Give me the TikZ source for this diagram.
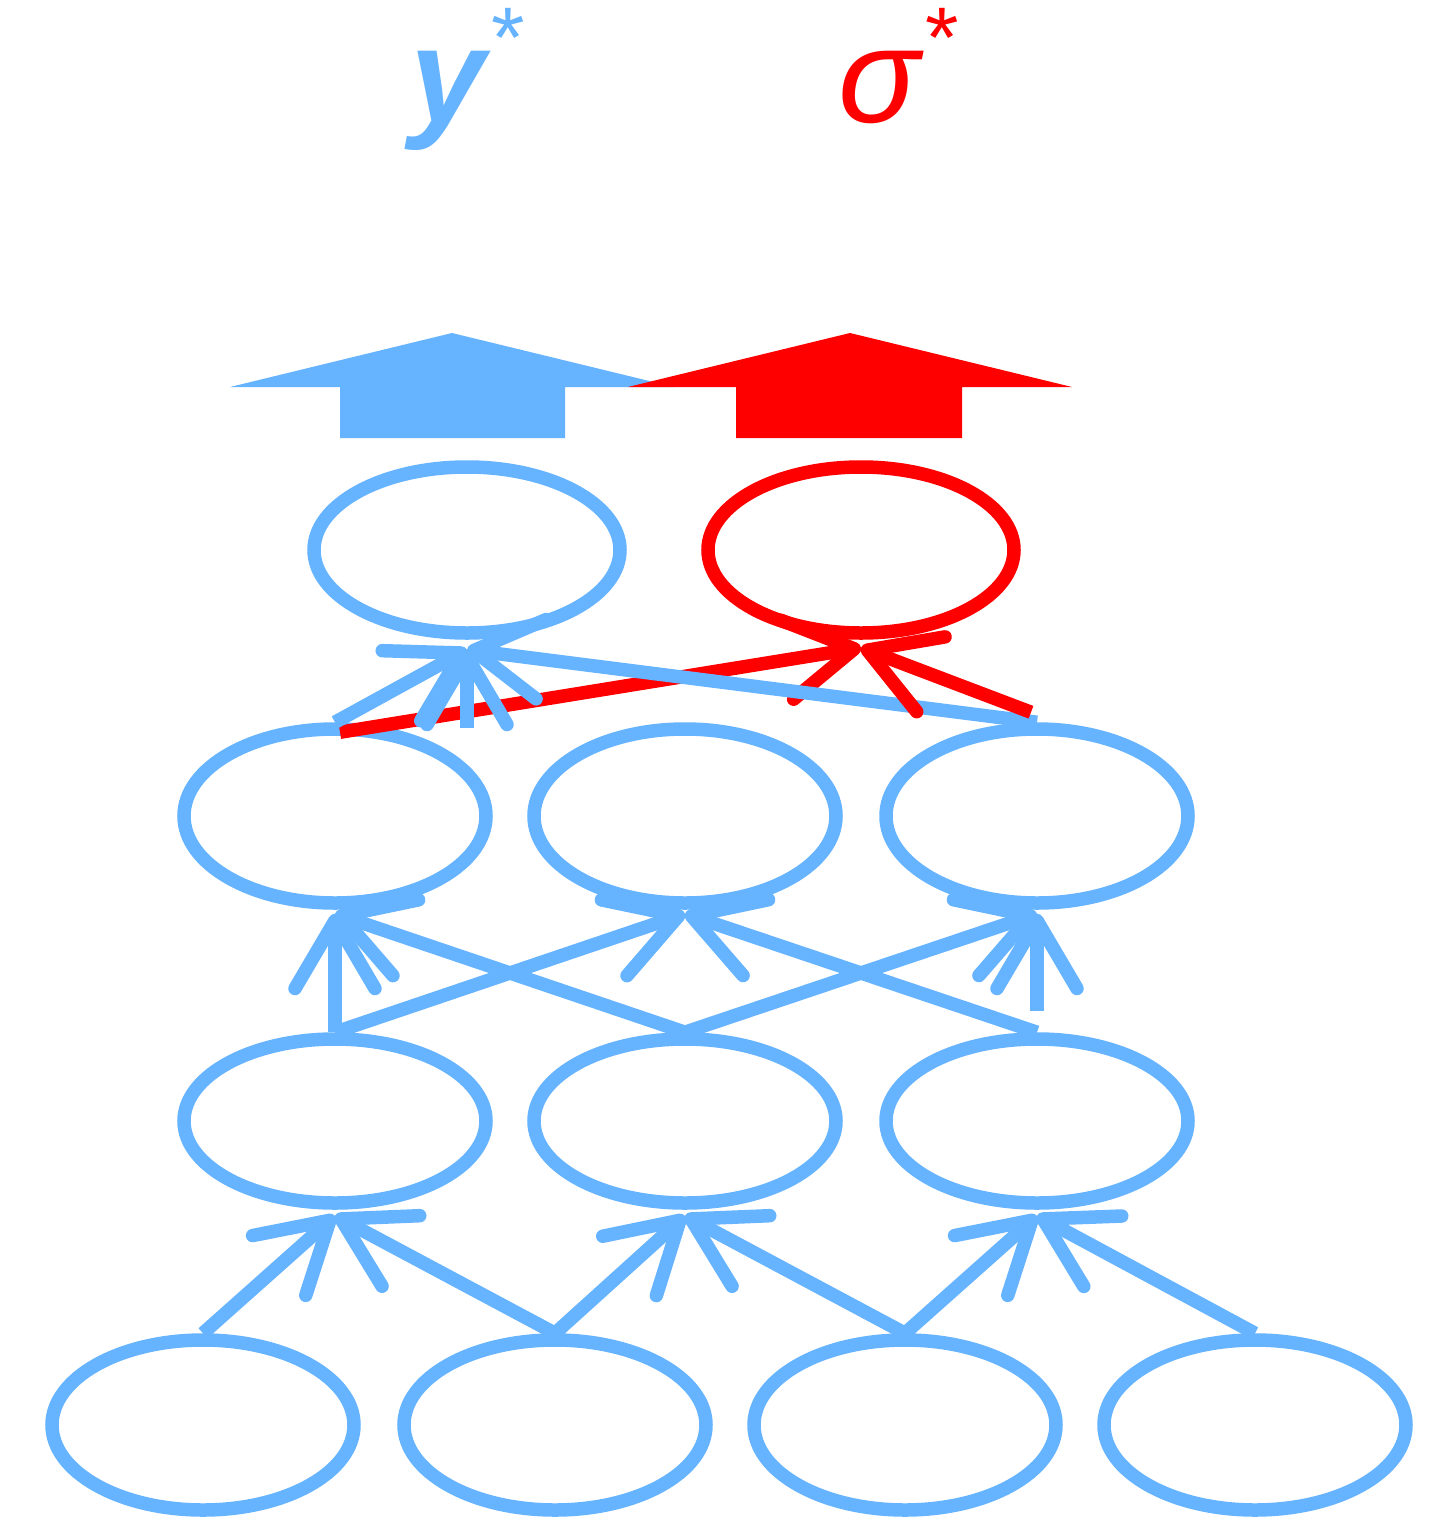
\documentclass[tikz,border=0pt]{standalone}
\usepackage{fontspec}
\setmainfont{Liberation Sans}
\usetikzlibrary{shapes.geometric,arrows.meta}
\definecolor{blueC}{RGB}{102,179,255}
\definecolor{redC}{RGB}{255,0,0}
\tikzset{
  ell/.style={ellipse, draw=blueC, line width=13.5pt, minimum width=302pt, inner sep=0pt},
  conn/.style={line width=13.5pt, draw=blueC, -{Straight Barb[length=68pt,width=80pt,round]}},
  rconn/.style={conn, draw=redC},
  lab/.style={anchor=base west, inner sep=0pt, font=\fontsize{135}{135}\selectfont},
}
\begin{document}
\begin{tikzpicture}[x=1pt,y=-1pt]
\useasboundingbox (0,0) rectangle (1450,1527);
% labels
\node[lab, text=blueC] (ylab) at (410,122) {\bfseries\itshape y\hspace{6pt}\raisebox{55pt}{\fontsize{86}{86}\selectfont\mdseries\upshape *}};
\node[lab, text=redC] (slab) at (838,122) {\itshape σ\hspace{6pt}\raisebox{55pt}{\fontsize{86}{86}\selectfont\upshape *}};
% block arrows
\fill[blueC] (230,387) -- (452,333) -- (674,387) -- (565,387) -- (565,438) -- (340,438) -- (340,387) -- cycle;
\fill[redC] (628,387) -- (850,333) -- (1072,387) -- (962,387) -- (962,438) -- (736,438) -- (736,387) -- cycle;
% ellipses
\node[ell, minimum width=306pt, minimum height=166pt] (t1) at (467,550) {};
\node[ell, draw=redC, minimum width=306pt, minimum height=166pt] (t2) at (861,550) {};
\foreach \n/\x in {a/335,b/685,c/1037}{
  \node[ell, minimum height=174pt] (r2\n) at (\x,816) {};
  \node[ell, minimum height=164pt] (r3\n) at (\x,1121) {};
}
\foreach \n/\x in {a/203,b/555,c/905,d/1255}{
  \node[ell, minimum height=170pt] (r4\n) at (\x,1425) {};
}
% row 4 -> row 3
\draw[conn] (r4a.north) -- ([yshift=-6pt]r3a.south);
\draw[conn] (r4b.north) -- ([yshift=-6pt]r3a.south);
\draw[conn] (r4b.north) -- ([yshift=-6pt]r3b.south);
\draw[conn] (r4c.north) -- ([yshift=-6pt]r3b.south);
\draw[conn] (r4c.north) -- ([yshift=-6pt]r3c.south);
\draw[conn] (r4d.north) -- ([yshift=-6pt]r3c.south);
% row 3 -> row 2
\draw[conn] (r3a.north) -- ([yshift=-4pt]r2a.south);
\draw[conn] (r3a.north) -- ([yshift=-4pt]r2b.south);
\draw[conn] (r3b.north) -- ([yshift=-4pt]r2a.south);
\draw[conn] (r3b.north) -- ([yshift=-4pt]r2c.south);
\draw[conn] (r3c.north) -- ([yshift=-4pt]r2b.south);
\draw[conn] ([yshift=21pt]r3c.north) -- ([yshift=-4pt]r2c.south);
% row 2 -> top
\coordinate (stub) at (467,728);
\draw[rconn] ([shift={(5pt,-10pt)}]r2a.north) -- ([yshift=-8pt]t2.south);
\draw[conn] (r2a.north) -- ([yshift=-10pt]t1.south);
\draw[conn] (stub) -- ([yshift=-10pt]t1.south);
\draw[conn] (r2c.north) -- ([yshift=-10pt]t1.south);
\draw[rconn] ([shift={(-6pt,10pt)}]r2c.north) -- ([yshift=-8pt]t2.south);
\end{tikzpicture}
\end{document}
